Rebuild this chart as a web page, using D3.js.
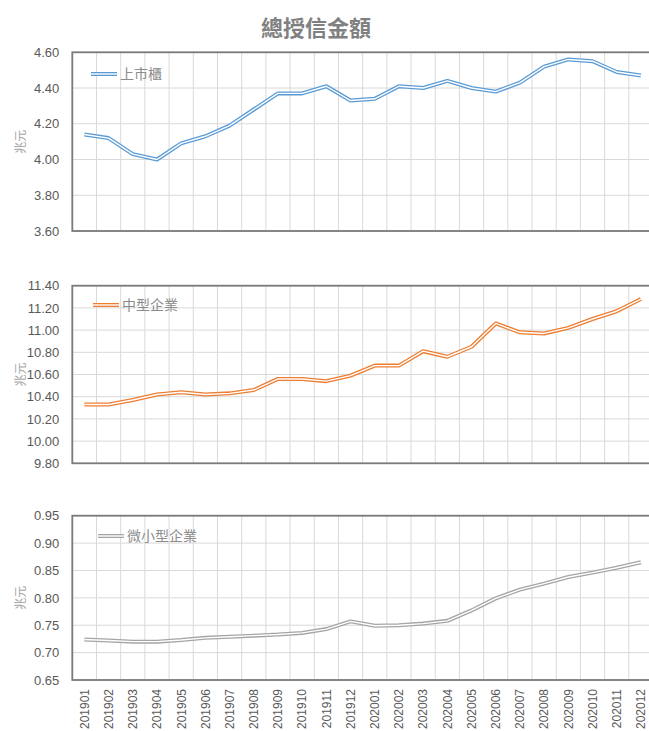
<!DOCTYPE html>
<html>
<head>
<meta charset="utf-8">
<script src="https://cdn.jsdelivr.net/npm/d3@7"></script>
<style>
  body { margin: 0; background: #fff; overflow: hidden; }
  svg { display: block; }
  .tick text { font-family: "Liberation Sans", Arial, sans-serif; font-size: 13px; fill: #595959; }
</style>
</head>
<body>
<div id="chart"></div>
<script>
var w = 649;
var h = 731;

// months on the category axis
var months = ["201901","201902","201903","201904","201905","201906","201907","201908","201909","201910","201911","201912",
              "202001","202002","202003","202004","202005","202006","202007","202008","202009","202010","202011","202012"];

// 兆元
var listed = [4.14, 4.12, 4.03, 4.00, 4.09, 4.13, 4.19, 4.28, 4.37, 4.37, 4.41, 4.33,
              4.34, 4.41, 4.40, 4.44, 4.40, 4.38, 4.43, 4.52, 4.56, 4.55, 4.49, 4.47];
var medium = [10.33, 10.33, 10.37, 10.42, 10.44, 10.42, 10.43, 10.46, 10.56, 10.56, 10.54, 10.59,
              10.68, 10.68, 10.81, 10.76, 10.85, 11.06, 10.98, 10.97, 11.02, 11.10, 11.17, 11.28];
var small = [0.724, 0.722, 0.720, 0.720, 0.723, 0.727, 0.729, 0.731, 0.733, 0.736, 0.743, 0.757,
             0.749, 0.750, 0.753, 0.758, 0.777, 0.799, 0.815, 0.826, 0.838, 0.846, 0.855, 0.865];

var listedTicks = [3.6, 3.8, 4.0, 4.2, 4.4, 4.6];
var mediumTicks = [9.8, 10.0, 10.2, 10.4, 10.6, 10.8, 11.0, 11.2, 11.4];
var smallTicks = [0.65, 0.70, 0.75, 0.80, 0.85, 0.90, 0.95];

var left = 72.3, right = 653;

var xScale = d3.scaleBand()
  .domain(months)
  .range([left, right]);

var svg = d3.select("#chart")
  .append("svg")
  .attr("width", w)
  .attr("height", h);

// title
svg.append("text")
  .attr("x", 316)
  .attr("y", 36)
  .style("text-anchor", "middle")
  .style("font-family", "'Noto Sans CJK TC', sans-serif")
  .style("font-size", "22px")
  .style("font-weight", "bold")
  .style("fill", "#808080")
  .text("總授信金額");

function drawPanel(opt){
  var yScale = d3.scaleLinear()
    .domain([opt.ticks[0], opt.ticks[opt.ticks.length-1]])
    .range([opt.bottom, opt.top]);

  var g = svg.append("g");

  //horizontal grid
  g.append("g")
    .selectAll("line")
    .data(opt.ticks)
    .enter().append("line")
    .attr("x1", left).attr("x2", right)
    .attr("y1", function(d){return yScale(d);})
    .attr("y2", function(d){return yScale(d);})
    .attr("stroke", "#d9d9d9")
    .attr("stroke-width", 1);

  //vertical grid at category boundaries
  g.append("g")
    .selectAll("line")
    .data(months.slice(1))
    .enter().append("line")
    .attr("x1", function(d){return xScale(d);})
    .attr("x2", function(d){return xScale(d);})
    .attr("y1", opt.top).attr("y2", opt.bottom)
    .attr("stroke", "#d9d9d9")
    .attr("stroke-width", 1);

  // frame
  g.append("rect")
    .attr("x", left).attr("y", opt.top)
    .attr("width", right - left + 5).attr("height", opt.bottom - opt.top)
    .attr("fill", "none")
    .attr("stroke", "#7a7a7a")
    .attr("stroke-width", 1.8);

  //y axis
  var ax = g.append("g")
    .attr("transform", "translate(" + left + ",0)")
    .call(d3.axisLeft(yScale).tickValues(opt.ticks).tickFormat(d3.format(".2f")).tickSize(0).tickPadding(13));
  ax.select(".domain").remove();

  // y axis title
  g.append("text")
    .attr("transform", "translate(21," + ((opt.top + opt.bottom)/2) + ") rotate(-90)")
    .attr("dy", "0.35em")
    .style("text-anchor", "middle")
    .style("font-family", "'Noto Sans CJK TC', sans-serif")
    .style("font-size", "12px")
    .style("fill", "#a6a6a6")
    .text("兆元");

  // double line: wide colour stroke with a thin white core
  var line = d3.line()
    .x(function(d, i){return xScale(months[i]) + xScale.bandwidth()/2;})
    .y(function(d){return yScale(d);});

  g.append("path")
    .datum(opt.values)
    .attr("d", line)
    .attr("fill", "none")
    .attr("stroke", opt.color)
    .attr("stroke-width", 4)
    .attr("stroke-linejoin", "round");
  g.append("path")
    .datum(opt.values)
    .attr("d", line)
    .attr("fill", "none")
    .attr("stroke", "#fff")
    .attr("stroke-width", 1.4)
    .attr("stroke-linejoin", "round");

  // legend
  var lg = g.append("g");
  lg.append("line")
    .attr("x1", opt.legX).attr("x2", opt.legX + 26)
    .attr("y1", opt.legY).attr("y2", opt.legY)
    .attr("stroke", opt.color).attr("stroke-width", 4);
  lg.append("line")
    .attr("x1", opt.legX).attr("x2", opt.legX + 26)
    .attr("y1", opt.legY).attr("y2", opt.legY)
    .attr("stroke", "#fff").attr("stroke-width", 1.4);
  lg.append("text")
    .attr("x", opt.legX + 29)
    .attr("y", opt.legY)
    .attr("dy", "0.36em")
    .style("font-family", "'Noto Sans CJK TC', sans-serif")
    .style("font-size", "14px")
    .style("fill", "#8c8c8c")
    .text(opt.name);

  return g;
}

drawPanel({name: "上市櫃", values: listed, ticks: listedTicks, top: 52.3, bottom: 231,
           color: "#5b9bd5", legX: 91, legY: 74});
drawPanel({name: "中型企業", values: medium, ticks: mediumTicks, top: 285.7, bottom: 463.3,
           color: "#ed7d31", legX: 93, legY: 305});
drawPanel({name: "微小型企業", values: small, ticks: smallTicks, top: 515.7, bottom: 680,
           color: "#a5a5a5", legX: 98, legY: 536});

// x axis labels under the last panel
var xa = svg.append("g")
  .attr("transform", "translate(0,680)")
  .call(d3.axisBottom(xScale).tickSize(0));
xa.select(".domain").remove();
xa.selectAll("text")
  .attr("transform", "rotate(-90)")
  .attr("x", -9)
  .attr("y", 0)
  .attr("dy", "0.36em")
  .style("font-size", "12px")
  .style("text-anchor", "end");
</script>
</body>
</html>
